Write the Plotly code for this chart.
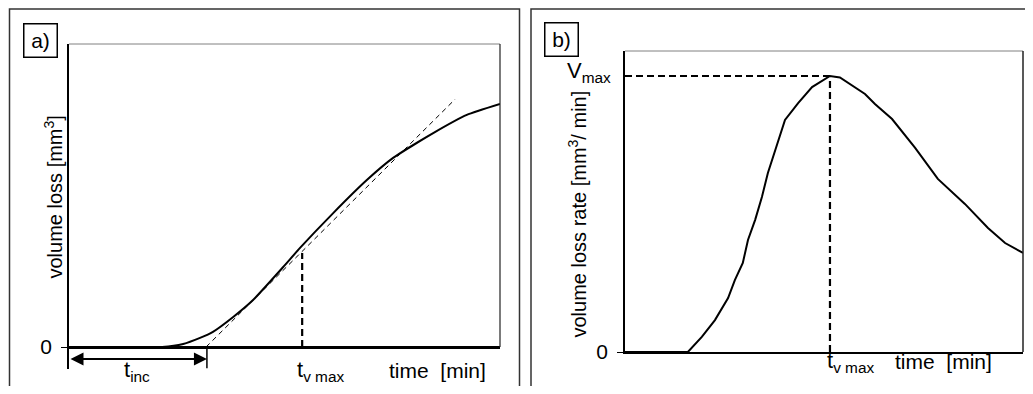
import plotly.graph_objects as go

# The page body keeps its default 8px margin; the figure is sized so the page
# exactly fills the 1033x394 window. Pixel positions below are window positions.
OFF = 8
W, H = 1033 - 2 * OFF, 394 - 2 * OFF

# ---- Panel a: cumulative volume loss (arbitrary units, x/y 0..100) ----
a_time = [0, 21.6, 26.5, 30.4, 33.4, 38.1, 42.7, 49.7, 53.6, 61.3, 69.1, 75.2, 84.5, 92.3, 100]
a_loss = [0, 0, 1.0, 3.0, 5.0, 9.9, 15.5, 26.4, 32.7, 44.2, 55.1, 62.4, 70.6, 76.6, 80.2]
a_tangent_x = [31.8, 89.6]
a_tangent_y = [0, 81.8]
a_tvmax = 54.1
a_tvmax_y = 31.0
a_tinc = 32.0

# ---- Panel b: volume loss rate ----
b_time = [0, 15.8, 19.3, 22.6, 25.9, 27.6, 29.6, 30.9, 32.7, 34.4, 35.9, 38.4, 40.2, 43.5,
          47.0, 51.5, 54.0, 60.3, 62.8, 67.1, 72.9, 78.6, 85.4, 91.2, 95.5, 100]
b_rate = [0, 0, 5.0, 10.6, 17.9, 23.9, 29.6, 37.2, 43.9, 51.5, 59.5, 69.4, 77.1, 82.7,
          88.0, 91.7, 91.2, 85.7, 82.4, 77.4, 67.8, 57.5, 49.2, 41.2, 36.2, 32.9]
b_tvmax = 51.5
b_vmax = 91.7

FONT = "Arial, Liberation Sans, sans-serif"
FS = 21
FS_TITLE = 20

def px(x):
    return (x - OFF) / W

def py(y):
    return 1 - (y - OFF) / H

fig = go.Figure()

# panel a traces
fig.add_trace(go.Scatter(x=a_time, y=a_loss, mode="lines",
                         line=dict(color="black", width=2, shape="spline", smoothing=0.5),
                         xaxis="x", yaxis="y", showlegend=False, hoverinfo="skip"))
fig.add_trace(go.Scatter(x=a_tangent_x, y=a_tangent_y, mode="lines",
                         line=dict(color="black", width=1, dash="5px,4px"),
                         xaxis="x", yaxis="y", showlegend=False, hoverinfo="skip"))
fig.add_trace(go.Scatter(x=[a_tvmax, a_tvmax], y=[0, a_tvmax_y], mode="lines",
                         line=dict(color="black", width=2.2, dash="7px,4px"),
                         xaxis="x", yaxis="y", showlegend=False, hoverinfo="skip"))
fig.add_trace(go.Scatter(x=[a_tinc, a_tinc], y=[0, -7], mode="lines",
                         line=dict(color="black", width=1.5),
                         xaxis="x", yaxis="y", showlegend=False, hoverinfo="skip"))

# panel b traces
fig.add_trace(go.Scatter(x=b_time, y=b_rate, mode="lines",
                         line=dict(color="black", width=2),
                         xaxis="x2", yaxis="y2", showlegend=False, hoverinfo="skip"))
fig.add_trace(go.Scatter(x=[0, b_tvmax], y=[b_vmax, b_vmax], mode="lines",
                         line=dict(color="black", width=2, dash="7px,4px"),
                         xaxis="x2", yaxis="y2", showlegend=False, hoverinfo="skip"))
fig.add_trace(go.Scatter(x=[b_tvmax, b_tvmax], y=[0, b_vmax], mode="lines",
                         line=dict(color="black", width=2.2, dash="7px,4px"),
                         xaxis="x2", yaxis="y2", showlegend=False, hoverinfo="skip"))

a_ymin = -7.26

ax_common = dict(showgrid=False, zeroline=False, showticklabels=False, ticks="", automargin=False)
fig.update_layout(
    template="none",
    width=W, height=H, autosize=False,
    margin=dict(l=0, r=0, t=0, b=0, pad=0, autoexpand=False),
    paper_bgcolor="white", plot_bgcolor="white",
    font=dict(family=FONT, size=FS, color="black"),
    xaxis=dict(domain=[px(69), px(500)], range=[0, 100], showline=False, anchor="y", **ax_common),
    yaxis=dict(domain=[py(369), py(44)], range=[a_ymin, 100], anchor="x", automargin=False,
               showgrid=False, showline=True, linecolor="black", linewidth=1.5,
               zeroline=True, zerolinecolor="black", zerolinewidth=2.5,
               tickvals=[0], ticktext=["0"], ticks="outside", ticklen=6, tickcolor="black",
               ticklabelstandoff=5, tickfont=dict(size=FS)),
    xaxis2=dict(domain=[px(625), px(1023)], range=[0, 100], anchor="y2",
                showline=True, linecolor="black", linewidth=2, **ax_common),
    yaxis2=dict(domain=[py(352), py(51)], range=[0, 100], anchor="x2", automargin=False,
                showgrid=False, showline=True, linecolor="black", linewidth=1.5, zeroline=False,
                tickvals=[0], ticktext=["0"], ticks="outside", ticklen=6, tickcolor="black",
                ticklabelstandoff=5, tickfont=dict(size=FS)),
)

shapes = []
# outer panel borders
shapes.append(dict(type="rect", xref="paper", yref="paper", x0=px(9.5), x1=px(519.5),
                   y0=-0.2, y1=py(9), line=dict(color="#333", width=1.5)))
shapes.append(dict(type="rect", xref="paper", yref="paper", x0=px(531), x1=1.2,
                   y0=-0.2, y1=py(9), line=dict(color="#333", width=1.5)))
# plot frames (top gray, right dark)
a_zero_frac = -a_ymin / (100 - a_ymin)
shapes.append(dict(type="line", xref="x domain", yref="y domain", x0=0, x1=1, y0=1, y1=1,
                   line=dict(color="#808080", width=1)))
shapes.append(dict(type="line", xref="x domain", yref="y domain", x0=1, x1=1, y0=a_zero_frac, y1=1,
                   line=dict(color="#222", width=1.2)))
shapes.append(dict(type="line", xref="x2 domain", yref="y2 domain", x0=0, x1=1, y0=1, y1=1,
                   line=dict(color="#808080", width=1)))
shapes.append(dict(type="line", xref="x2 domain", yref="y2 domain", x0=1, x1=1, y0=0, y1=1,
                   line=dict(color="#222", width=1.5)))
fig.update_layout(shapes=shapes)

ann = []
# panel labels
ann.append(dict(xref="paper", yref="paper", x=px(40), y=py(40), text="a)", showarrow=False,
                font=dict(size=FS), bordercolor="black", borderwidth=1.5, borderpad=1,
                width=30, height=30, xanchor="center", yanchor="middle"))
ann.append(dict(xref="paper", yref="paper", x=px(561.5), y=py(39.5), text="b)", showarrow=False,
                font=dict(size=FS), bordercolor="black", borderwidth=1.5, borderpad=1,
                width=30, height=30, xanchor="center", yanchor="middle"))
# y titles
ann.append(dict(xref="paper", yref="paper", x=px(53), y=py(197.5), text="volume loss [mm<sup>3</sup>]",
                textangle=-90, showarrow=False, font=dict(size=FS_TITLE), xanchor="center", yanchor="middle"))
ann.append(dict(xref="paper", yref="paper", x=px(577), y=py(214.5),
                text="volume loss rate [mm<sup>3</sup>/ min]",
                textangle=-90, showarrow=False, font=dict(size=FS_TITLE), xanchor="center", yanchor="middle"))
# x labels panel a
ann.append(dict(xref="paper", yref="paper", x=px(437), y=py(370), text="time&nbsp;&nbsp;[min]",
                showarrow=False, font=dict(size=FS), xanchor="center", yanchor="middle"))
ann.append(dict(xref="paper", yref="paper", x=px(320), y=py(371), text="t<sub>v max</sub>",
                showarrow=False, font=dict(size=FS + 1), xanchor="center", yanchor="middle"))
ann.append(dict(xref="paper", yref="paper", x=px(137), y=py(371), text="t<sub>inc</sub>",
                showarrow=False, font=dict(size=FS + 1), xanchor="center", yanchor="middle"))
# x labels panel b
ann.append(dict(xref="paper", yref="paper", x=px(943), y=py(361), text="time&nbsp;&nbsp;[min]",
                showarrow=False, font=dict(size=FS), xanchor="center", yanchor="middle"))
ann.append(dict(xref="paper", yref="paper", x=px(850), y=py(362), text="t<sub>v max</sub>",
                showarrow=False, font=dict(size=FS + 1), xanchor="center", yanchor="middle"))
ann.append(dict(xref="paper", yref="paper", x=px(613), y=py(72), text="V<sub>max</sub>",
                showarrow=False, font=dict(size=FS + 1), xanchor="right", yanchor="middle"))
# t_inc double arrow
ann.append(dict(xref="x", yref="y", x=a_tinc, y=-3.96, axref="x", ayref="y", ax=0, ay=-3.96,
                text="", showarrow=True, arrowside="end+start", arrowhead=2, arrowsize=1.3,
                arrowwidth=2, arrowcolor="black"))
fig.update_layout(annotations=ann)

fig.write_html("out.html")
